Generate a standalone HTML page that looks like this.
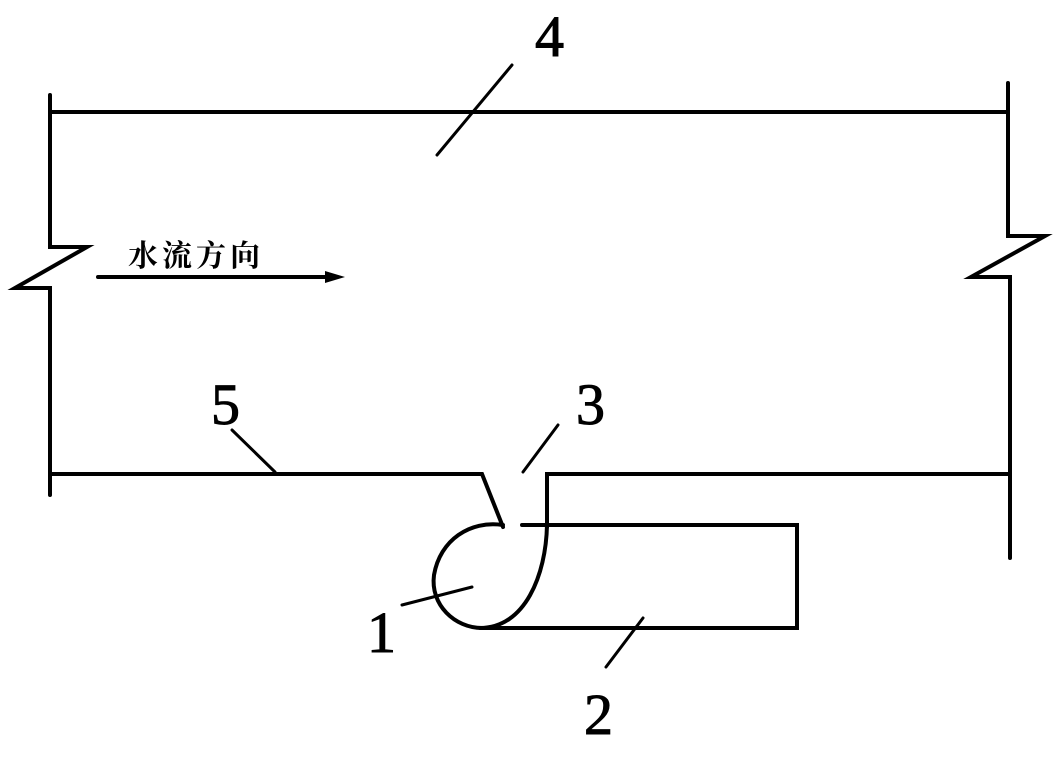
<!DOCTYPE html>
<html><head><meta charset="utf-8"><style>
html,body{margin:0;padding:0;background:#fff;}
svg{display:block;}
</style></head><body>
<svg width="1059" height="757" viewBox="0 0 1059 757" xmlns="http://www.w3.org/2000/svg">
<g fill="none" stroke="#000" stroke-width="4" stroke-linecap="round" stroke-linejoin="miter">
<polyline points="50,95 50,247 87,247 15,288 50,288 50,495"/>
<polyline points="1008,83 1008,236 1045,236 971,277 1010,277 1010,558"/>
<line x1="50" y1="112" x2="1008" y2="112"/>
<polyline points="50,474 482,474 503,527"/>
<polyline points="1008,474 547,474 547,527"/>
<path d="M503,525 C470,520 440,540 434,575 C430,605 455,628 482,628"/>
<path d="M547,525 C546,575 525,628 480,628"/>
<polyline points="522,525 797,525 797,628 482,628"/>
<line x1="437" y1="155" x2="512" y2="65" stroke-width="3"/>
<line x1="232" y1="430" x2="275" y2="472" stroke-width="3"/>
<line x1="523" y1="472" x2="558" y2="425" stroke-width="3"/>
<line x1="402" y1="605" x2="472" y2="587" stroke-width="3"/>
<line x1="606" y1="667" x2="643" y2="618" stroke-width="3"/>
<line x1="98" y1="277" x2="330" y2="277" stroke-width="4"/>
</g>
<polygon points="325,271 345,277 325,283" fill="#000"/>
<g style="font-family:'Liberation Serif', serif" font-size="58" fill="#000" stroke="#000" stroke-width="1">
<text x="535" y="56">4</text>
<text x="211" y="424">5</text>
<text x="576" y="424">3</text>
<text x="367" y="652">1</text>
<text x="584" y="734">2</text>
</g>
<text x="128" y="266" style="font-family:'Liberation Serif','Noto Serif CJK SC',serif" font-size="30" font-weight="bold" letter-spacing="4" fill="#000">水流方向</text>
</svg>
</body></html>
